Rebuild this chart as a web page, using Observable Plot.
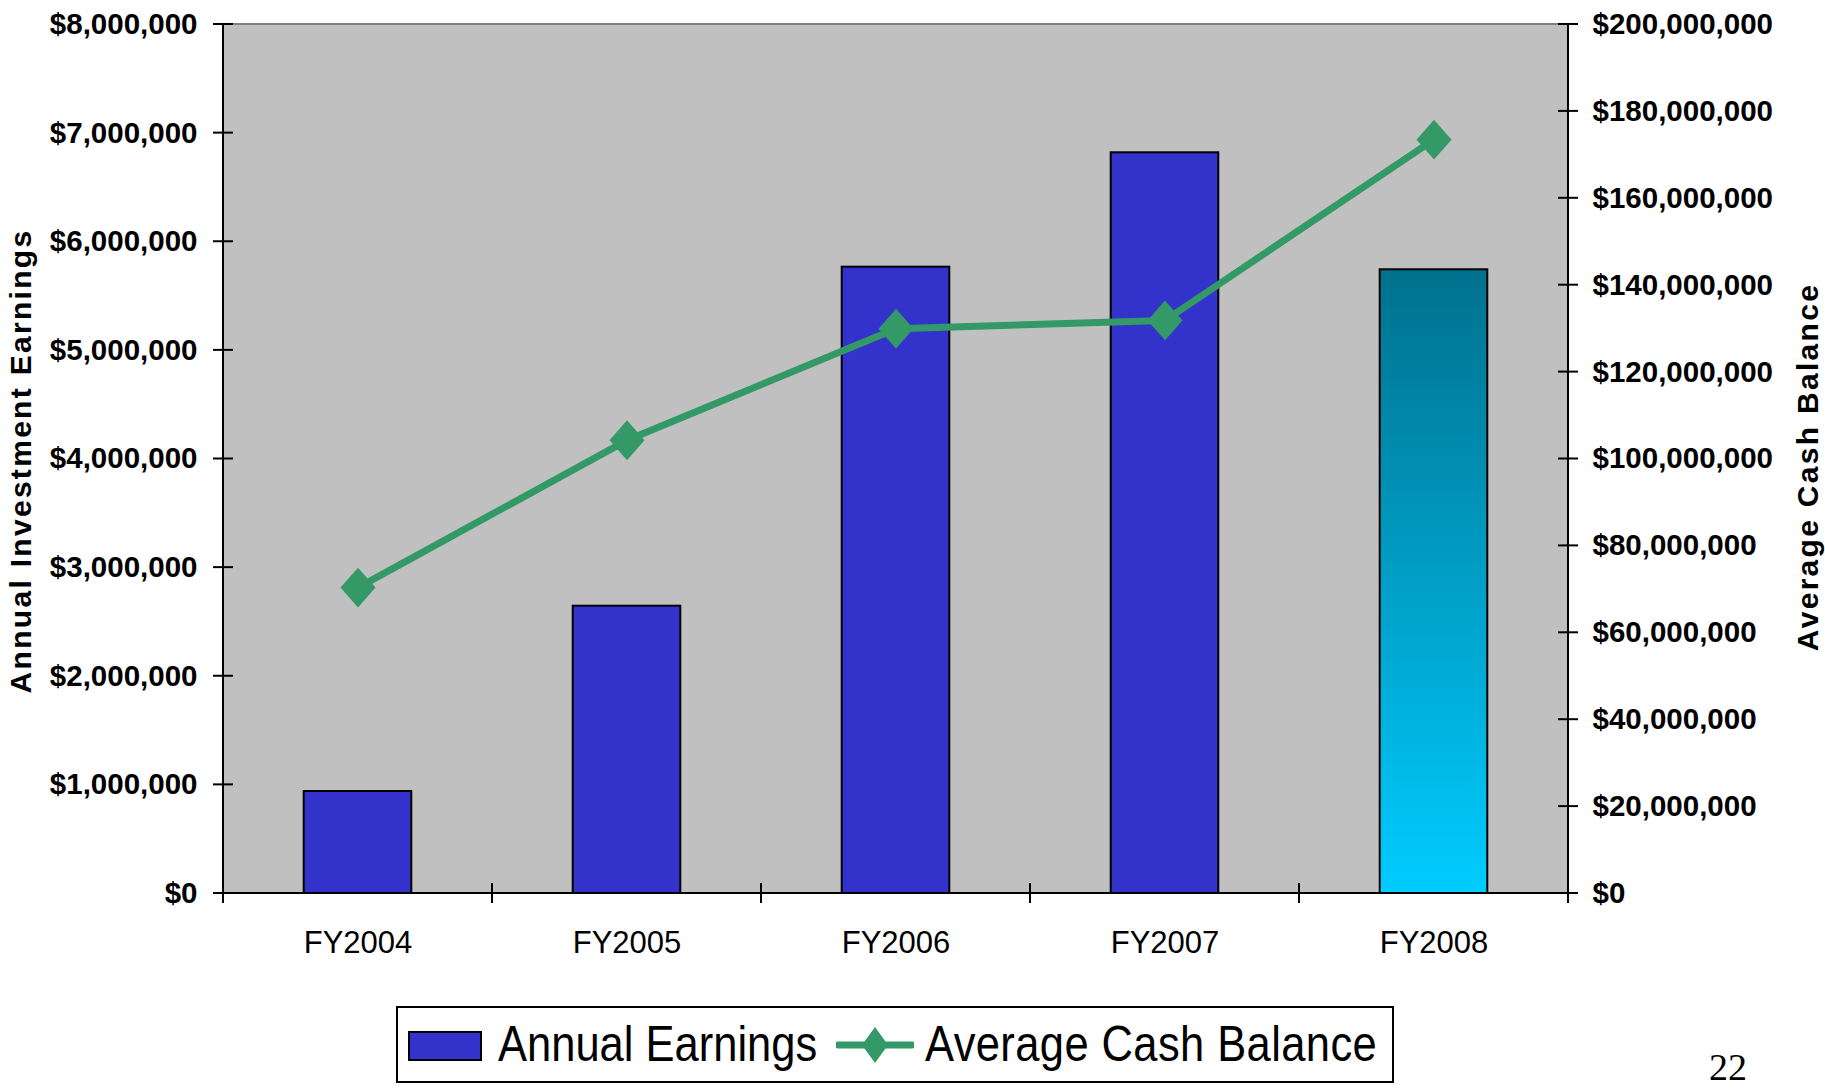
<!DOCTYPE html>
<html>
<head>
<meta charset="utf-8">
<script src="https://cdn.jsdelivr.net/npm/d3@7"></script>
<script src="https://cdn.jsdelivr.net/npm/@observablehq/plot@0.6"></script>
<style>
  html, body { margin: 0; padding: 0; background: #fff; }
  body { width: 1825px; height: 1089px; overflow: hidden; position: relative; font-family: "Liberation Sans", Arial, sans-serif; color: #000; }
  #chart { position: absolute; left: 0; top: 0; }
  #chart svg { overflow: visible; }
  g[aria-label="y-axis tick label"] text { font: bold 29.5px "Liberation Sans", Arial, sans-serif; }
  g[aria-label="x-axis tick label"] text { font: 31px "Liberation Sans", Arial, sans-serif; }
  #legend { position: absolute; left: 396px; top: 1006px; width: 994px; height: 73px; border: 2px solid #000; background: #fff; }
  #legend .sw { position: absolute; left: 10px; top: 23px; width: 70px; height: 26px; background: #3333CC; border: 2px solid #000; }
  #legend .lt { position: absolute; top: 0; height: 73px; line-height: 73px; font-size: 43.5px; white-space: nowrap; transform: scaleY(1.16); transform-origin: 50% 50%; }
  #legend .ls { position: absolute; left: 438px; top: 16.5px; }
  #page { position: absolute; left: 1709px; top: 1050px; height: 34px; font: 38px "Liberation Serif", "Times New Roman", serif; line-height: 34px; }
</style>
</head>
<body>
<div id="chart"></div>
<div id="legend">
  <div class="sw"></div>
  <span class="lt" id="lt1" style="left:100px"></span>
  <svg class="ls" width="78" height="40" viewBox="0 0 78 40">
    <line x1="2" y1="20" x2="76" y2="20" stroke="#339966" stroke-width="7" stroke-linecap="round"></line>
    <polygon points="39,2 52,20 39,38 26,20" fill="#339966"></polygon>
  </svg>
  <span class="lt" id="lt2" style="left:527px; letter-spacing:0.4px"></span>
</div>
<div id="page">22</div>
<script>
// ---------- data ----------
const categories = ["FY2004", "FY2005", "FY2006", "FY2007", "FY2008"];
const annualEarnings = [939000, 2645000, 5766000, 6819000, 5742000];
const averageCashBalance = [70400000, 104300000, 130000000, 131900000, 173500000];
const leftTicks = [0, 1000000, 2000000, 3000000, 4000000, 5000000, 6000000, 7000000, 8000000];
const rightTicks = [0, 20000000, 40000000, 60000000, 80000000, 100000000, 120000000, 140000000, 160000000, 180000000, 200000000];
const seriesNames = ["Annual Earnings", "Average Cash Balance"];
const leftTitle = "Annual Investment Earnings";
const rightTitle = "Average Cash Balance";
const projectedCategory = "FY2008";

// ---------- derived ----------
const leftMax = leftTicks[leftTicks.length - 1];
const rightMax = rightTicks[rightTicks.length - 1];
const ratio = rightMax / leftMax; // secondary axis unit conversion
const data = categories.map((c, i) => ({category: c, earnings: annualEarnings[i], cash: averageCashBalance[i]}));
const money = d => "$" + d3.format(",")(Math.round(d));

const NS = "http://www.w3.org/2000/svg";
function el(name, attrs) {
  const e = document.createElementNS(NS, name);
  for (const k in attrs) e.setAttribute(k, attrs[k]);
  return e;
}

// gradient definition for projected bar
function gradientDefs() {
  const defs = el("defs", {});
  const lg = el("linearGradient", {id: "fy08grad", x1: 0, y1: 0, x2: 0, y2: 1});
  lg.appendChild(el("stop", {offset: "0", "stop-color": "#00718E"}));
  lg.appendChild(el("stop", {offset: "1", "stop-color": "#00CCFF"}));
  defs.appendChild(lg);
  return defs;
}

// axis lines and crossing ticks, positioned via the plot's scales
function axesMark(index, scales, values, dims) {
  const x = scales.x, y = scales.y;
  const L = dims.marginLeft, R = dims.width - dims.marginRight;
  const T = dims.marginTop, B = dims.height - dims.marginBottom;
  const g = el("g", {"aria-label": "axes"});
  const line = (x1, y1, x2, y2, stroke) => g.appendChild(el("line", {x1, y1, x2, y2, stroke: stroke || "#000", "stroke-width": 2}));
  line(L, T, R, T, "#808080");
  line(L, T, L, B + 10);
  line(R, T, R, B + 10);
  line(L - 10, B, R + 10, B);
  for (const t of leftTicks) { const yy = y(t); line(L - 10, yy, L + 10, yy); }
  for (const t of rightTicks) { const yy = y(t / ratio); line(R - 10, yy, R + 10, yy); }
  const bw = typeof x.bandwidth === "function" ? x.bandwidth() : 0;
  const step = categories.length > 1 ? x(categories[1]) - x(categories[0]) : (R - L);
  const bounds = categories.map(c => x(c) + bw / 2 - step / 2);
  bounds.push(x(categories[categories.length - 1]) + bw / 2 + step / 2);
  for (const bx of bounds) line(bx, B - 10, bx, B + 10);
  return g;
}

const diamond = {
  draw(ctx, size) {
    const r = Math.sqrt(size / Math.PI);
    const h = r * 1.14;
    ctx.moveTo(0, -h); ctx.lineTo(r, 0); ctx.lineTo(0, h); ctx.lineTo(-r, 0); ctx.closePath();
  }
};

const W = 1825, H = 995;
const plot = Plot.plot({
  width: W,
  height: H,
  marginLeft: 223,
  marginRight: 257,
  marginTop: 24,
  marginBottom: 102,
  style: {background: "transparent", color: "#000", fontFamily: "Liberation Sans, Arial, sans-serif", overflow: "visible"},
  x: {domain: categories, paddingInner: 0.6, paddingOuter: 0.3, round: false},
  y: {domain: [0, leftMax]},
  marks: [
    gradientDefs,
    Plot.frame({fill: "#C0C0C0", stroke: null}),
    Plot.barY(data.filter(d => d.category !== projectedCategory), {x: "category", y: "earnings", fill: "#3333CC", stroke: "#000", strokeWidth: 2}),
    Plot.barY(data.filter(d => d.category === projectedCategory), {x: "category", y: "earnings", fill: "url(#fy08grad)", stroke: "#000", strokeWidth: 2}),
    Plot.line(data, {x: "category", y: d => d.cash / ratio, stroke: "#339966", strokeWidth: 7, strokeLinejoin: "round", strokeLinecap: "round"}),
    Plot.dot(data, {x: "category", y: d => d.cash / ratio, symbol: diamond, r: 17.5, fill: "#339966", stroke: "none"}),
    axesMark,
    Plot.axisY({anchor: "left", ticks: leftTicks, tickFormat: money, tickSize: 0, tickPadding: 26, label: null, fontWeight: "bold"}),
    Plot.axisY({anchor: "right", ticks: rightTicks.map(t => t / ratio), tickFormat: d => money(d * ratio), tickSize: 0, tickPadding: 24, label: null, fontWeight: "bold"}),
    Plot.axisX({anchor: "bottom", tickSize: 0, tickPadding: 37, label: null}),
    Plot.text([leftTitle], {text: d => d, frameAnchor: "left", rotate: -90, dx: -202, dy: 2, textAnchor: "middle", lineAnchor: "middle", fontSize: 30, fontWeight: "bold"}),
    Plot.text([rightTitle], {text: d => d, frameAnchor: "right", rotate: -90, dx: 240, dy: 8, textAnchor: "middle", lineAnchor: "middle", fontSize: 30, fontWeight: "bold"})
  ]
});
document.getElementById("chart").appendChild(plot);
for (const t of plot.querySelectorAll("text")) {
  if (t.textContent === leftTitle || t.textContent === rightTitle) t.style.letterSpacing = "2.3px";
}
document.getElementById("lt1").textContent = seriesNames[0];
document.getElementById("lt2").textContent = seriesNames[1];
</script>
</body>
</html>
